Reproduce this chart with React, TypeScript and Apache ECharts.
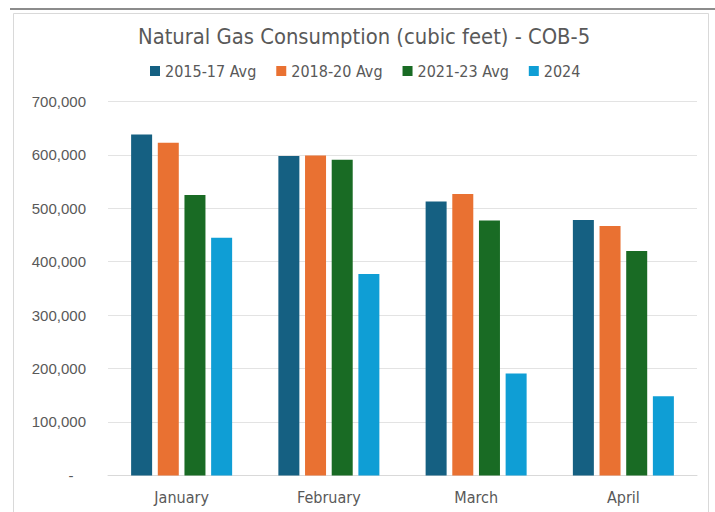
import React, { useEffect, useRef } from "react";
import * as echarts from "echarts";

const categories = ["January", "February", "March", "April"];
const seriesNames = ["2015-17 Avg", "2018-20 Avg", "2021-23 Avg", "2024"];
const avg2015_17 = [638000, 598000, 513000, 478000];
const avg2018_20 = [623000, 599000, 527000, 467000];
const avg2021_23 = [525000, 591000, 477000, 420000];
const values2024 = [445000, 377000, 191000, 148000];
const colors = ["#156082", "#E97132", "#196B24", "#0F9ED5"];
const yTicks = [0, 100000, 200000, 300000, 400000, 500000, 600000, 700000];

const FONT = "'DejaVu Sans Condensed', 'Roboto', sans-serif";
const YFONT = "'Liberation Sans', Arial, sans-serif";

export default function App() {
  const ref = useRef<HTMLDivElement>(null);
  useEffect(() => {
    document.body.style.margin = "0";
    if (!ref.current) return;
    const chart = echarts.init(ref.current, undefined, { renderer: "svg" });
    const allData = [avg2015_17, avg2018_20, avg2021_23, values2024];
    chart.setOption({
      animation: false,
      backgroundColor: "#ffffff",
      textStyle: { fontFamily: FONT },
      title: {
        text: "Natural Gas Consumption (cubic feet) - COB-5",
        left: 138,
        top: 25,
        padding: 0,
        textStyle: { fontFamily: FONT, fontSize: 21.8, fontWeight: "normal", color: "#595959" },
      },
      legend: {
        data: seriesNames,
        top: 58,
        left: 145,
        itemWidth: 10,
        itemHeight: 10,
        itemGap: 20,
        icon: "rect",
        textStyle: { fontFamily: FONT, fontSize: 16, color: "#595959" },
      },
      graphic: [
        { type: "line", shape: { x1: 10, y1: 9, x2: 715, y2: 9 }, style: { stroke: "#666666", lineWidth: 1.5 } },
        { type: "rect", shape: { x: 13.5, y: 13.5, width: 695, height: 510 }, style: { fill: "none", stroke: "#d9d9d9", lineWidth: 1 } },
      ],
      grid: { left: 108, right: 18, top: 101.5, bottom: 36.6, containLabel: false },
      xAxis: {
        type: "category",
        data: categories,
        axisLine: { show: true, lineStyle: { color: "#d9d9d9", width: 1 } },
        axisTick: { show: false },
        axisLabel: { fontFamily: FONT, fontSize: 16, color: "#595959", margin: 14 },
      },
      yAxis: {
        type: "value",
        min: yTicks[0],
        max: yTicks[yTicks.length - 1],
        interval: 100000,
        axisLine: { show: false },
        axisTick: { show: false },
        splitLine: { lineStyle: { color: "#e3e3e3", width: 1 } },
        axisLabel: {
          fontFamily: YFONT,
          fontSize: 15,
          color: "#595959",
          margin: 22,
          formatter: (v: number) => (v === 0 ? "-   " : v.toLocaleString("en-US")),
        },
      },
      series: seriesNames.map((name, i) => ({
        name,
        type: "bar",
        data: allData[i],
        barWidth: 21,
        barGap: "27%",
        itemStyle: { color: colors[i] },
      })),
    });
    return () => chart.dispose();
  }, []);
  return <div ref={ref} style={{ position: "absolute", left: 0, top: 0, width: 715, height: 512 }} />;
}
